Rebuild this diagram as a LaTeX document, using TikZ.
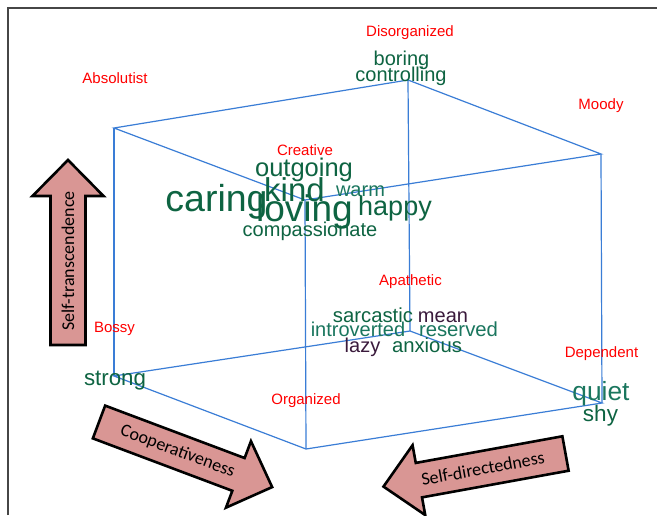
\documentclass[tikz,border=0pt]{standalone}
\usepackage{fontspec}
\setmainfont{Liberation Sans}
\newfontfamily\calfont{Carlito}
\definecolor{cubeblue}{RGB}{58,125,214}
\definecolor{wgreen}{RGB}{14,100,66}
\definecolor{wteal}{RGB}{26,118,94}
\definecolor{wpurple}{RGB}{58,26,60}
\definecolor{arrowfill}{RGB}{217,150,148}
\definecolor{framegray}{RGB}{70,70,70}
\begin{document}
\begin{tikzpicture}[x=1pt,y=-1pt,
  edge/.style={draw=cubeblue,line width=1.2pt},
  lbl/.style={text=red,font=\fontsize{15}{15}\selectfont,anchor=base,inner sep=0pt},
  word/.style={text=wgreen,anchor=base,inner sep=0pt},
  blockarrow/.style={fill=arrowfill,draw=black,line width=2.6pt,miter limit=10},
  arrowtext/.style={font=\calfont\fontsize{18}{18}\selectfont,inner sep=0pt}
]
\useasboundingbox (0,0) rectangle (657,515);
\fill[white] (0,0) rectangle (657,515);
\coordinate (f1) at (8,515);
\coordinate (f2) at (8,8);
\coordinate (f3) at (657,8);
\draw[framegray,line width=1.5pt] (f1) -- (f2) -- (f3);

% cube
\coordinate (A) at (114,128);
\coordinate (B) at (408,80);
\coordinate (C) at (601,154);
\coordinate (D) at (305,200);
\coordinate (E) at (114,376);
\coordinate (F) at (410,331);
\coordinate (G) at (602,403);
\coordinate (H) at (306,449);
\draw[edge] (A) -- (B) -- (C) -- (D) -- cycle;
\draw[edge] (E) -- (F) -- (G) -- (H) -- cycle;
\draw[edge] (A) -- (E);
\draw[edge] (B) -- (F);
\draw[edge] (C) -- (G);
\draw[edge] (D) -- (H);

% block arrows
\begin{scope}[shift={(68,345)},rotate=90]
\draw[blockarrow] (0,-17.5) -- (149,-17.5) -- (149,-35.5) -- (185,0) -- (149,35.5) -- (149,17.5) -- (0,17.5) -- cycle;
\node[arrowtext,rotate=90] (st) at (84,0) {Self-transcendence};
\end{scope}
\begin{scope}[shift={(99,422)},rotate=-20.6]
\draw[blockarrow] (0,-17.5) -- (149,-17.5) -- (149,-35.5) -- (185,0) -- (149,35.5) -- (149,17.5) -- (0,17.5) -- cycle;
\node[arrowtext,rotate=-20.6] (co) at (84,0) {Cooperativeness};
\end{scope}
\begin{scope}[shift={(565.5,453.5)},rotate=190.3]
\draw[blockarrow] (0,-17.5) -- (149,-17.5) -- (149,-35.5) -- (185,0) -- (149,35.5) -- (149,17.5) -- (0,17.5) -- cycle;
\node[arrowtext,rotate=10.3] (sd) at (84,0) {Self-directedness};
\end{scope}

% red labels
\node[lbl] (l1) at (410,36) {Disorganized};
\node[lbl] (l2) at (115,83) {Absolutist};
\node[lbl] (l3) at (601,109) {Moody};
\node[lbl] (l4) at (305,155) {Creative};
\node[lbl] (l5) at (410.5,285) {Apathetic};
\node[lbl] (l6) at (114.5,332.5) {Bossy};
\node[lbl] (l7) at (601.5,357.5) {Dependent};
\node[lbl] (l8) at (306,404) {Organized};

% words
\node[word,font=\fontsize{20}{20}\selectfont] (w1) at (401.5,65) {boring};
\node[word,font=\fontsize{20}{20}\selectfont] (w2) at (401,81) {controlling};
\node[word,font=\fontsize{25.5}{25.5}\selectfont] (w3) at (304,176) {outgoing};
\node[word,font=\fontsize{37.5}{37.5}\selectfont] (w4) at (216.5,211.5) {caring};
\node[word,font=\fontsize{33}{33}\selectfont] (w5) at (294.5,201) {kind};
\node[word,font=\fontsize{37}{37}\selectfont] (w6) at (304.5,221.5) {loving};
\node[word,text=wteal,font=\fontsize{20}{20}\selectfont] (w7) at (360.5,196) {warm};
\node[word,font=\fontsize{27}{27}\selectfont] (w8) at (395,215) {happy};
\node[word,font=\fontsize{20}{20}\selectfont] (w9) at (310,236) {compassionate};
\node[word,font=\fontsize{20.3}{20.3}\selectfont] (w10) at (373,322.7) {sarcastic};
\node[word,text=wpurple,font=\fontsize{20}{20}\selectfont] (w11) at (443,322.7) {mean};
\node[word,text=wteal,font=\fontsize{20}{20}\selectfont] (w12) at (358,336) {introverted};
\node[word,text=wteal,font=\fontsize{20.3}{20.3}\selectfont] (w13) at (458.5,336) {reserved};
\node[word,text=wpurple,font=\fontsize{20}{20}\selectfont] (w14) at (362.5,352.7) {lazy};
\node[word,font=\fontsize{20.3}{20.3}\selectfont] (w15) at (427,352.7) {anxious};
\node[word,font=\fontsize{22.3}{22.3}\selectfont] (w16) at (115,385) {strong};
\node[word,text=wteal,font=\fontsize{26.3}{26.3}\selectfont] (w17) at (601,400.7) {quiet};
\node[word,font=\fontsize{22.5}{22.5}\selectfont] (w18) at (600.5,421.7) {shy};
\end{tikzpicture}
\end{document}
